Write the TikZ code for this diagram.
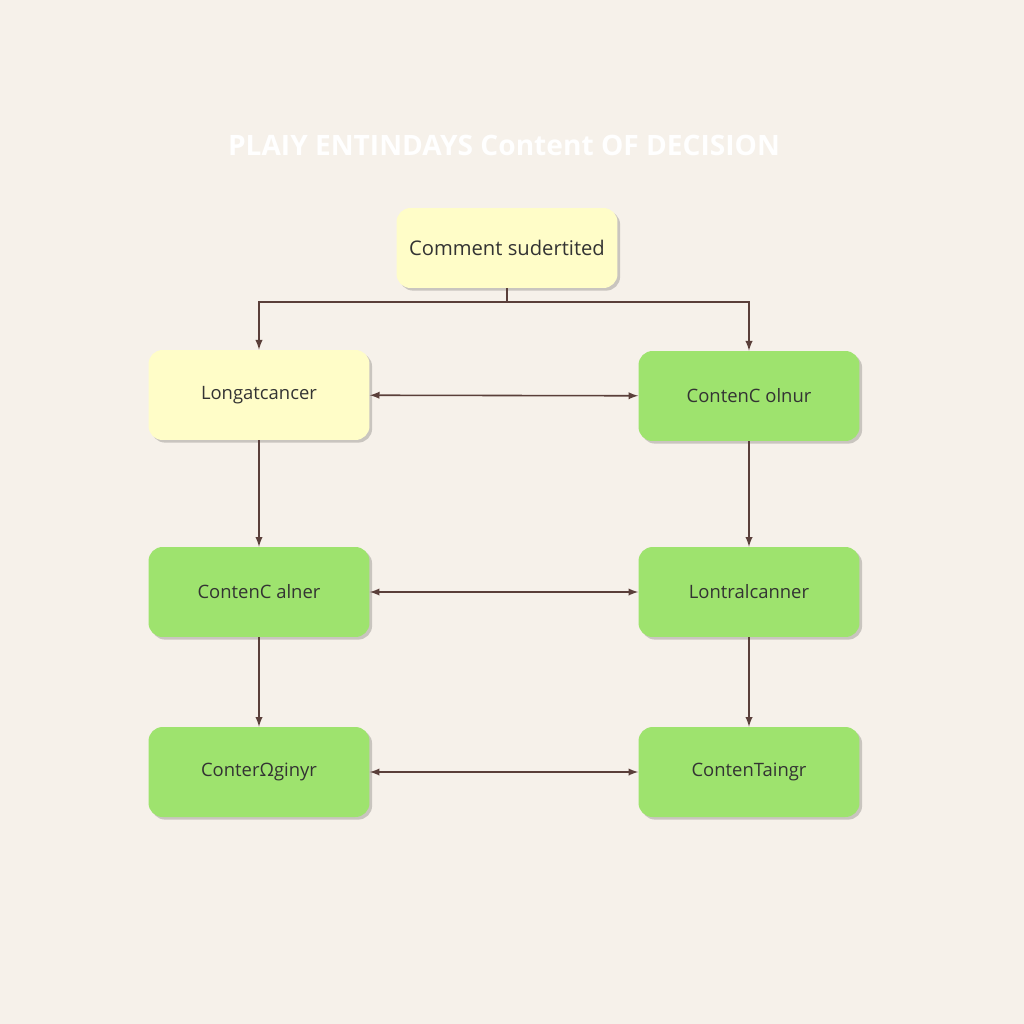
\documentclass[tikz,border=0pt]{standalone}
\usepackage{fontspec}
\setmainfont{Open Sans}
\usetikzlibrary{shadows}
\definecolor{bgcol}{HTML}{F6F1EA}
\definecolor{boxyellow}{HTML}{FFFDC8}
\definecolor{boxgreen}{HTML}{9EE36E}
\definecolor{linecol}{HTML}{5A3F3A}
\tikzset{
  box/.style={rounded corners=8pt, minimum width=4.42cm, minimum height=1.8cm,
    font=\fontsize{10.5}{12}\selectfont, text=black!80, inner sep=0pt,
    drop shadow={shadow xshift=1.5pt, shadow yshift=-1.5pt, fill=black, opacity=.18}},
  flow/.style={draw=linecol, line width=0.9pt, -latex}
}
\begin{document}
\begin{tikzpicture}[x=0.02cm, y=-0.02cm]
\fill [bgcol] (0,0) rectangle (1024,1024);
\useasboundingbox (0,0) rectangle (1024,1024);

\node (title) [font=\fontsize{16}{18}\selectfont\bfseries, text=white] at (504,145) {PLAIY ENTINDAYS Content OF DECISION};

\node (start) [box, fill=boxyellow, minimum height=1.6cm, font=\fontsize{11.5}{13}\selectfont] at (507,248) {Comment sudertited};
\node (l1) [box, fill=boxyellow] at (259,395) {Longatcancer};
\node (r1) [box, fill=boxgreen] at (749,396) {ContenC olnur};
\node (l2) [box, fill=boxgreen] at (259,592) {ContenC alner};
\node (r2) [box, fill=boxgreen] at (749,592) {Lontralcanner};
\node (l3) [box, fill=boxgreen] at (259,772) {ConterΩginyr};
\node (r3) [box, fill=boxgreen] at (749,772) {ContenTaingr};

\coordinate (split) at (507,302);
\draw [linecol, line width=0.9pt] (start.south) -- (split);
\draw [flow] (split) -| (l1.north);
\draw [flow] (split) -| (r1.north);

\draw [flow] (l1) -- (l2);
\draw [flow] (l2) -- (l3);
\draw [flow] (r1) -- (r2);
\draw [flow] (r2) -- (r3);

\draw [flow, latex-latex] (l1) -- (r1);
\draw [flow, latex-latex] (l2) -- (r2);
\draw [flow, latex-latex] (l3) -- (r3);
\end{tikzpicture}
\end{document}
